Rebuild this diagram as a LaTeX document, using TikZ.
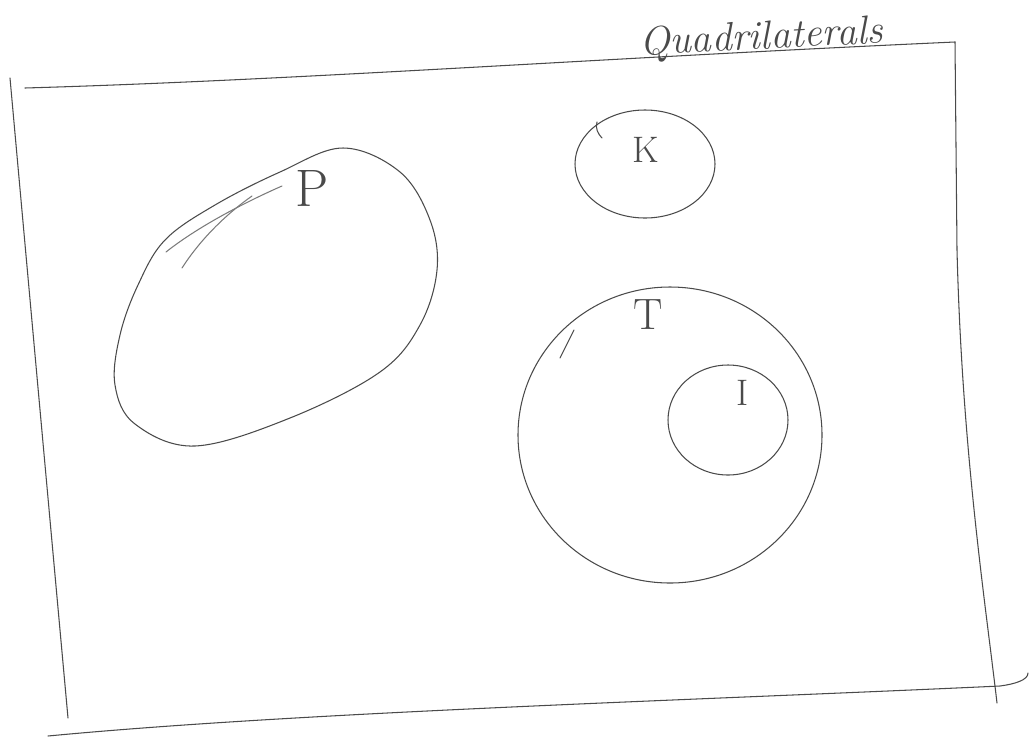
\documentclass[tikz,border=0pt]{standalone}
\usepackage{tikz}
\usetikzlibrary{positioning}

\begin{document}
\begin{tikzpicture}[x=0.02cm, y=-0.02cm, line join=round, line cap=round]

  % Colors
  \definecolor{pencil}{HTML}{4A4A4A} % soft graphite
  \definecolor{lightpencil}{HTML}{7A7A7A}

  \tikzset{
    stroke/.style={draw=pencil, line width=0.6pt},
    setlabel/.style={text=pencil, inner sep=0pt},
  }

  \useasboundingbox (0,0) rectangle (1031,738);

  % Universal set: hand-drawn frame
  \draw[stroke] (10,78) .. controls (30,300) and (50,520) .. (68,718);
  \draw[stroke] (25,88) .. controls (300,80) and (600,58) .. (955,42);
  \draw[stroke] (955,42) -- (957,250) .. controls (962,450) and (985,600) .. (997,703);
  \draw[stroke] (48,736) .. controls (300,712) and (700,700) .. (1000,686)
    .. controls (1015,684) and (1028,680) .. (1028,673);
  \node[setlabel, font=\fontsize{23}{23}\selectfont\itshape, anchor=base, rotate=3] (quad) at (762,49) {Quadrilaterals};

  % P: parallelograms
  \draw[stroke] plot[smooth cycle, tension=0.6] coordinates {
    (343,148) (400,172) (430,220) (437,270) (420,325) (380,372)
    (290,418) (195,446) (135,424) (115,385) (120,335) (138,285) (165,240) (215,205) (280,172)};
  \draw[stroke, draw=lightpencil] (166,252) .. controls (200,225) and (250,200) .. (282,186);
  \draw[stroke, draw=lightpencil] (182,268) .. controls (200,240) and (225,215) .. (252,196);
  \node[setlabel, font=\fontsize{30}{30}\selectfont] (P) at (312,188) {P};

  % K: kites
  \draw[stroke] (645,164) ellipse [x radius=70, y radius=54];
  \draw[stroke] (597,122) .. controls (595,128) and (598,134) .. (602,138);
  \node[setlabel, font=\fontsize{21}{21}\selectfont] (K) at (646,150) {K};

  % T: trapeziums, with I inside
  \draw[stroke] (670,435) ellipse [x radius=152, y radius=148];
  \draw[stroke] (574,330) -- (560,358);
  \node[setlabel, font=\fontsize{25}{25}\selectfont] (T) at (648,315) {T};

  \draw[stroke] (728,420) ellipse [x radius=60, y radius=55];
  \node[setlabel, font=\fontsize{21}{21}\selectfont] (I) at (743,393) {I};

\end{tikzpicture}
\end{document}
